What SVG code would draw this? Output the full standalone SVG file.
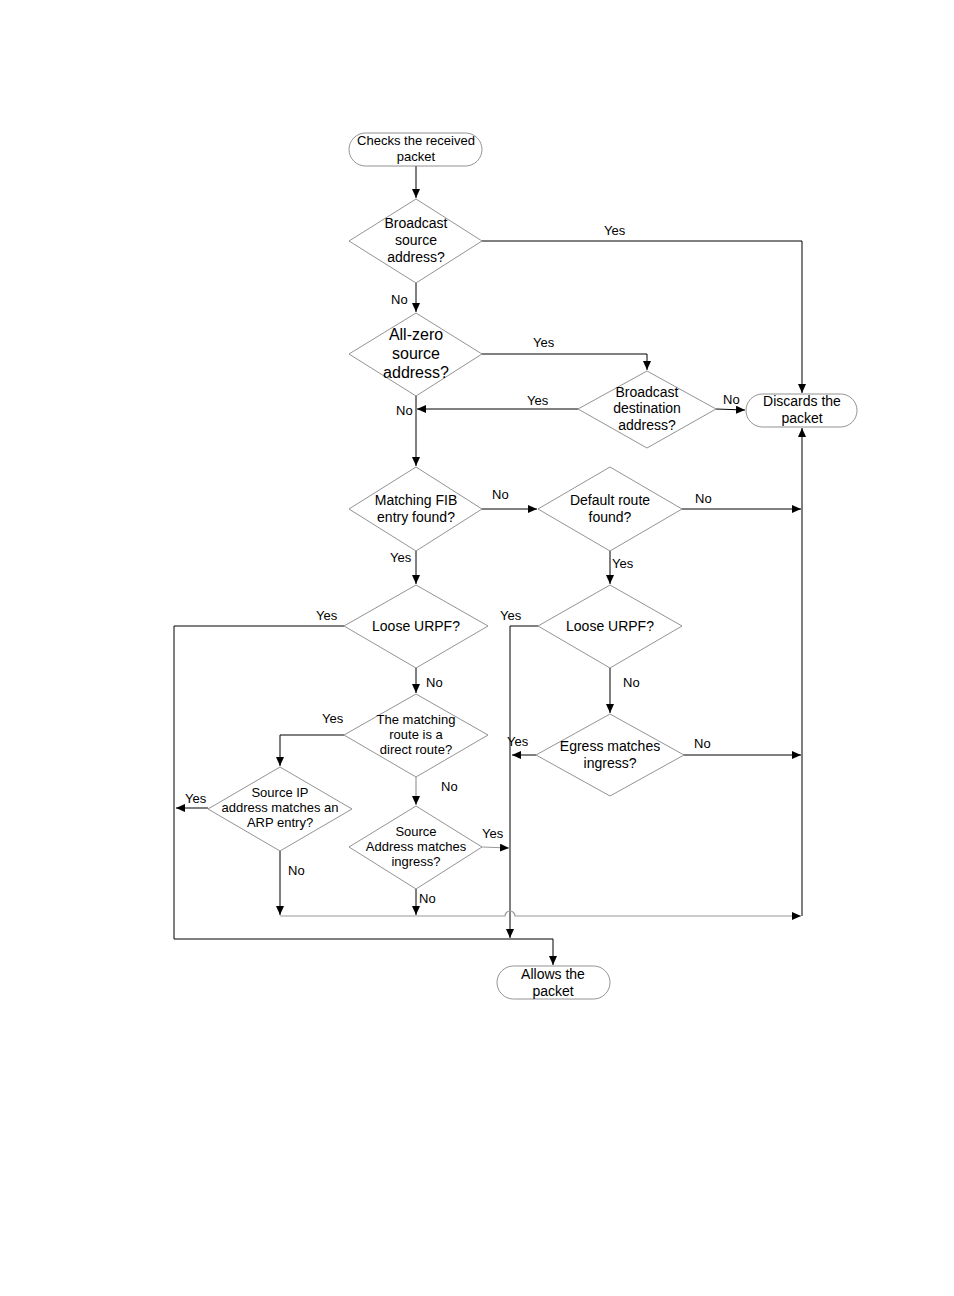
<svg xmlns="http://www.w3.org/2000/svg" width="954" height="1296" viewBox="0 0 954 1296">
<style>
.n{fill:#fff;stroke:#777;stroke-width:0.8}
.t{font-family:"Liberation Sans",Arial,sans-serif;font-size:14px;fill:#000;text-anchor:middle}
.s{font-size:13px}
.l{font-family:"Liberation Sans",Arial,sans-serif;font-size:13px;fill:#000}
.c{fill:none;stroke:#000;stroke-width:1}
.g{fill:none;stroke:#999;stroke-width:1.2}
.h{fill:#000;stroke:none}
</style>
<defs>
<marker id="a" markerWidth="10" markerHeight="8" refX="9" refY="4" orient="auto" markerUnits="userSpaceOnUse"><path d="M0,0 L9,4 L0,8 z" fill="#000"/></marker>
</defs>
<rect width="954" height="1296" fill="#fff"/>
<g id="connectors">
<path class="c" d="M416,166 V198" marker-end="url(#a)"/>
<path class="c" d="M482,241 H802 V393" marker-end="url(#a)"/>
<path class="c" d="M416,283 V312" marker-end="url(#a)"/>
<path class="c" d="M482,354 H647 V370" marker-end="url(#a)"/>
<path class="c" d="M578,409 H417" marker-end="url(#a)"/>
<path class="c" d="M716,409 L745,410" marker-end="url(#a)"/>
<path class="c" d="M416,396 V466" marker-end="url(#a)"/>
<path class="c" d="M482,509 H537" marker-end="url(#a)"/>
<path class="c" d="M682,509 H801" marker-end="url(#a)"/>
<path class="c" d="M802,916 V428" marker-end="url(#a)"/>
<path class="c" d="M416,551 V584" marker-end="url(#a)"/>
<path class="c" d="M610,551 V584" marker-end="url(#a)"/>
<path class="c" d="M344,626 H174 V939 H553 V965" marker-end="url(#a)"/>
<path class="c" d="M416,668 V693" marker-end="url(#a)"/>
<path class="c" d="M538,626 H510 V938" marker-end="url(#a)"/>
<path class="c" d="M610,668 V713" marker-end="url(#a)"/>
<path class="c" d="M536,755 H512" marker-end="url(#a)"/>
<path class="c" d="M684,755 H801" marker-end="url(#a)"/>
<path class="c" d="M344,735 H280 V766" marker-end="url(#a)"/>
<path class="g" d="M416,777 V805" marker-end="url(#a)"/>
<path class="c" d="M208,808 H176" marker-end="url(#a)"/>
<path class="c" d="M280,851 V915" marker-end="url(#a)"/>
<path class="g" d="M482,847 L509,848" marker-end="url(#a)"/>
<path class="c" d="M416,889 V915" marker-end="url(#a)"/>
<path class="g" d="M280,916 H505 A5,5 0 0 1 515,916 H801" marker-end="url(#a)"/>
</g>
<g id="start"><rect class="n" x="349" y="133" width="133" height="33" rx="16.5"/><text class="t s" x="416" y="145">Checks the received</text><text class="t s" x="416" y="161">packet</text></g>
<g id="d1"><polygon class="n" points="416,199 482,241 416,283 349,241"/><text class="t" x="416" y="228">Broadcast</text><text class="t" x="416" y="245">source</text><text class="t" x="416" y="262">address?</text></g>
<g id="d2"><polygon class="n" points="416,313 482,354 416,396 349,354"/><text class="t" style="font-size:16px" x="416" y="340">All-zero</text><text class="t" style="font-size:16px" x="416" y="359">source</text><text class="t" style="font-size:16px" x="416" y="378">address?</text></g>
<g id="d3"><polygon class="n" points="647,371 716,409 647,448 578,409"/><text class="t" x="647" y="397">Broadcast</text><text class="t" x="647" y="413">destination</text><text class="t" x="647" y="430">address?</text></g>
<g id="discard"><rect class="n" x="746" y="394" width="111" height="33" rx="16.5"/><text class="t" x="802" y="406">Discards the</text><text class="t" x="802" y="423">packet</text></g>
<g id="d4"><polygon class="n" points="416,467 482,509 416,551 349,509"/><text class="t" x="416" y="505">Matching FIB</text><text class="t" x="416" y="522">entry found?</text></g>
<g id="d5"><polygon class="n" points="610,467 682,509 610,551 538,509"/><text class="t" x="610" y="505">Default route</text><text class="t" x="610" y="522">found?</text></g>
<g id="d6"><polygon class="n" points="416,585 488,626 416,668 344,626"/><text class="t" x="416" y="631">Loose URPF?</text></g>
<g id="d7"><polygon class="n" points="610,585 682,626 610,668 538,626"/><text class="t" x="610" y="631">Loose URPF?</text></g>
<g id="d8"><polygon class="n" points="610,714 684,755 610,796 536,755"/><text class="t" x="610" y="751">Egress matches</text><text class="t" x="610" y="768">ingress?</text></g>
<g id="d9"><polygon class="n" points="416,694 488,735 416,777 344,735"/><text class="t s" x="416" y="724">The matching</text><text class="t s" x="416" y="739">route is a</text><text class="t s" x="416" y="754">direct route?</text></g>
<g id="d10"><polygon class="n" points="280,767 352,809 280,851 208,809"/><text class="t s" x="280" y="797">Source IP</text><text class="t s" x="280" y="812">address matches an</text><text class="t s" x="280" y="827">ARP entry?</text></g>
<g id="d11"><polygon class="n" points="416,806 482,847 416,889 349,847"/><text class="t s" x="416" y="836">Source</text><text class="t s" x="416" y="851">Address matches</text><text class="t s" x="416" y="866">ingress?</text></g>
<g id="allow"><rect class="n" x="497" y="966" width="113" height="33" rx="16.5"/><text class="t" x="553" y="979">Allows the</text><text class="t" x="553" y="996">packet</text></g>
<g id="labels">
<text class="l" x="604" y="235">Yes</text>
<text class="l" x="391" y="304">No</text>
<text class="l" x="533" y="347">Yes</text>
<text class="l" x="527" y="405">Yes</text>
<text class="l" x="396" y="415">No</text>
<text class="l" x="723" y="404">No</text>
<text class="l" x="492" y="499">No</text>
<text class="l" x="695" y="503">No</text>
<text class="l" x="390" y="562">Yes</text>
<text class="l" x="612" y="568">Yes</text>
<text class="l" x="316" y="620">Yes</text>
<text class="l" x="500" y="620">Yes</text>
<text class="l" x="426" y="687">No</text>
<text class="l" x="623" y="687">No</text>
<text class="l" x="322" y="723">Yes</text>
<text class="l" x="507" y="746">Yes</text>
<text class="l" x="694" y="748">No</text>
<text class="l" x="441" y="791">No</text>
<text class="l" x="185" y="803">Yes</text>
<text class="l" x="482" y="838">Yes</text>
<text class="l" x="288" y="875">No</text>
<text class="l" x="419" y="903">No</text>
</g>
</svg>
